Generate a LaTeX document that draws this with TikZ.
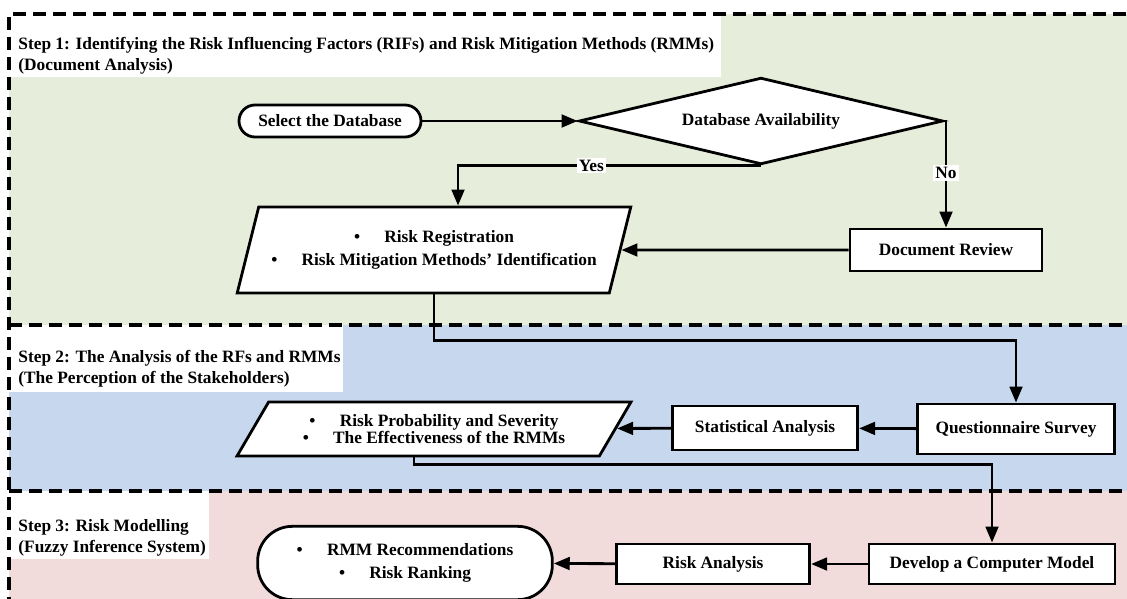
\documentclass[tikz,border=0pt]{standalone}
\usepackage{fontspec}
\setmainfont{Liberation Serif}
\usetikzlibrary{arrows.meta,shapes.geometric}
\definecolor{stepgreen}{HTML}{E6EEDB}
\definecolor{stepblue}{HTML}{C6D7EE}
\definecolor{steppink}{HTML}{F2DCDB}

\begin{document}
\begin{tikzpicture}[x=0.75pt, y=-0.75pt, line width=2.1pt,
        font=\fontsize{13}{15.75}\selectfont\bfseries,
        arr/.style={-{Triangle[length=12pt,width=9.5pt]}},
        box/.style={draw, fill=white, inner sep=2pt},
        term/.style={draw, fill=white, align=center},
        dec/.style={draw, fill=white, diamond, aspect=4.2, minimum width=273pt, minimum height=65pt},
        para/.style={draw, fill=white, trapezium, trapezium stretches=true, align=center, inner sep=2pt},
        sep/.style={dash pattern=on 10pt off 5pt, line width=2.4pt},
        ttl/.style={anchor=west, align=left, inner sep=0pt},
        lbl/.style={fill=white, inner sep=1.5pt}]
    \useasboundingbox (0,0) rectangle (1127,599);
    \clip (0,0) rectangle (1127,599);
    \fill[stepgreen] (9,14) rectangle (1140,325);
    \fill[stepblue] (9,325) rectangle (1140,491);
    \fill[steppink] (9,491) rectangle (1140,610);
    \fill[white] (9,14) rectangle (721,77);
    \fill[white] (9,325) rectangle (343,392);
    \fill[white] (9,491) rectangle (209,559);
    \draw[sep] (9,610) -- (9,14) -- (1140,14);
    \draw[sep] (9,325) -- (1140,325);
    \draw[sep] (9,491) -- (1140,491);

    \node[ttl] (t1) at (17,55.5) {Step 1: Identifying the Risk Influencing Factors (RIFs) and Risk Mitigation Methods (RMMs)\\(Document Analysis)};
    \node[ttl] (t2) at (17,369) {Step 2: The Analysis of the RFs and RMMs\\(The Perception of the Stakeholders)};
    \node[ttl] (t3) at (17,538) {Step 3: Risk Modelling\\(Fuzzy Inference System)};

    \node[term, rounded corners=12pt, minimum width=136.5pt, minimum height=24pt] (sel) at (330,121) {Select the Database};
    \node[dec] (dia) at (761,121) {Database Availability};
    \node[box, minimum width=144pt, minimum height=31.5pt] (dr) at (946,250) {Document Review};
    \node[para, trapezium left angle=65, trapezium right angle=115, minimum width=295.5pt, minimum height=64.5pt] (p1) at (434,250)
        {\textbullet\hspace{1.4em}Risk Registration\\[1pt]\textbullet\hspace{1.4em}Risk Mitigation Methods' Identification};
    \node[box, minimum width=148pt, minimum height=37.5pt] (qs) at (1016,429) {Questionnaire Survey};
    \node[box, minimum width=139pt, minimum height=33pt] (sa) at (765,428) {Statistical Analysis};
    \node[para, trapezium left angle=54, trapezium right angle=126, minimum width=295.5pt, minimum height=40.5pt] (p2) at (434,429)
        {\textbullet\hspace{1.4em}Risk Probability and Severity\\[-2.5pt]\textbullet\hspace{1.4em}The Effectiveness of the RMMs};
    \node[box, minimum width=184.5pt, minimum height=30pt] (dev) at (992,564) {Develop a Computer Model};
    \node[box, minimum width=145pt, minimum height=30pt] (ra) at (713,564) {Risk Analysis};
    \node[term, rounded corners=26pt, minimum width=221pt, minimum height=55pt] (rmm) at (405,563)
        {\textbullet\hspace{1.4em}RMM Recommendations\\[1pt]\textbullet\hspace{1.4em}Risk Ranking};

    \draw[arr] (sel) -- (dia);
    \draw[arr] (dia.south) -| node[lbl, pos=0.28] {Yes} ([xshift=18pt]p1.north);
    \draw[arr] (dia.east) -| node[lbl, pos=0.745] {No} (dr.north);
    \draw[arr] (dr) -- (p1);
    \draw[arr] (p1.south) -- ++(0,46) -| (qs.north);
    \draw[arr] (qs) -- (sa);
    \draw[arr] (sa) -- (p2);
    \draw[arr] ([xshift=-15pt]p2.south) -- ++(0,7) -| (dev.north);
    \draw[arr] (dev) -- (ra);
    \draw[arr] (ra) -- (rmm);
\end{tikzpicture}
\end{document}
